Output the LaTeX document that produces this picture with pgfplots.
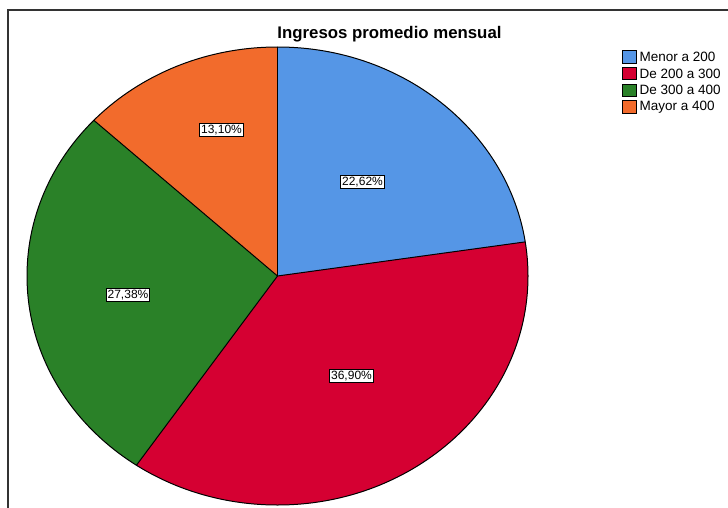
\documentclass[border=0pt]{standalone}
\usepackage{pgfplots}
\usepackage{pgfplotstable}
\pgfplotsset{compat=1.18}
\usepackage{fontspec}
\setmainfont{Liberation Sans}
\definecolor{cBlue}{RGB}{85,150,230}
\definecolor{cRed}{RGB}{213,0,50}
\definecolor{cGreen}{RGB}{42,129,40}
\definecolor{cOrange}{RGB}{242,107,44}
\pgfplotstableread{
value
22.62
36.90
27.38
13.10
}\piedata
\pgfplotstablegetelem{0}{value}\of\piedata\let\vA\pgfplotsretval
\pgfplotstablegetelem{1}{value}\of\piedata\let\vB\pgfplotsretval
\pgfplotstablegetelem{2}{value}\of\piedata\let\vC\pgfplotsretval
\pgfplotstablegetelem{3}{value}\of\piedata\let\vD\pgfplotsretval
\pgfmathsetmacro\aA{90}
\pgfmathsetmacro\aB{\aA-3.6*\vA}
\pgfmathsetmacro\aC{\aB-3.6*\vB}
\pgfmathsetmacro\aD{\aC-3.6*\vC}
\pgfmathsetmacro\aE{\aD-3.6*\vD}
\tikzset{plab/.style={draw=black, fill=white, inner sep=1.3pt, line width=0.9pt, font=\fontsize{12}{14}\selectfont}}
\begin{document}
\begin{tikzpicture}
\begin{axis}[
  x=1pt, y=1pt, xmin=0, xmax=728, ymin=0, ymax=508,
  y dir=reverse, hide axis, clip=true,
]
\addplot[draw=none, forget plot] coordinates {(0,0) (728,508)};
% frame
\draw[line width=2pt, black!80] (axis cs:8,508) -- (axis cs:8,10) -- (axis cs:728,10);
% wedges
\fill[cBlue]   (axis cs:277.5,276) -- ++(\aA:250.5pt and 229pt) arc[start angle=\aA, end angle=\aB, x radius=250.5pt, y radius=229pt] -- cycle;
\fill[cRed]    (axis cs:277.5,276) -- ++(\aB:250.5pt and 229pt) arc[start angle=\aB, end angle=\aC, x radius=250.5pt, y radius=229pt] -- cycle;
\fill[cGreen]  (axis cs:277.5,276) -- ++(\aC:250.5pt and 229pt) arc[start angle=\aC, end angle=\aD, x radius=250.5pt, y radius=229pt] -- cycle;
\fill[cOrange] (axis cs:277.5,276) -- ++(\aD:250.5pt and 229pt) arc[start angle=\aD, end angle=\aE, x radius=250.5pt, y radius=229pt] -- cycle;
\draw[black, line width=1pt] (axis cs:277.5,276) -- ++(\aA:250.5pt and 229pt);
\draw[black, line width=1pt] (axis cs:277.5,276) -- ++(\aB:250.5pt and 229pt);
\draw[black, line width=1pt] (axis cs:277.5,276) -- ++(\aC:250.5pt and 229pt);
\draw[black, line width=1pt] (axis cs:277.5,276) -- ++(\aD:250.5pt and 229pt);
\draw[black, line width=1pt] (axis cs:277.5,276) ellipse [x radius=250.5pt, y radius=229pt];
% labels
\node[plab] at (axis cs:362.5,182) {22,62\%};
\node[plab] at (axis cs:351.5,376) {36,90\%};
\node[plab] at (axis cs:128,295) {27,38\%};
\node[plab] at (axis cs:221.5,130) {13,10\%};
% title
\node[font=\fontsize{16.8}{19}\selectfont\bfseries] at (axis cs:389.5,34) {Ingresos promedio mensual};
% legend
\draw[black, line width=0.8pt, fill=cBlue]   (axis cs:622,50.5) rectangle (axis cs:636.5,63);
\draw[black, line width=0.8pt, fill=cRed]    (axis cs:622,67.3) rectangle (axis cs:636.5,79.8);
\draw[black, line width=0.8pt, fill=cGreen]  (axis cs:622,84.1) rectangle (axis cs:636.5,96.6);
\draw[black, line width=0.8pt, fill=cOrange] (axis cs:622,100.9) rectangle (axis cs:636.5,113.4);
\node[anchor=west, inner sep=0pt, font=\fontsize{13.5}{15}\selectfont] at (axis cs:639.5,56.7) {Menor a 200};
\node[anchor=west, inner sep=0pt, font=\fontsize{13.5}{15}\selectfont] at (axis cs:639.5,73.5) {De 200 a 300};
\node[anchor=west, inner sep=0pt, font=\fontsize{13.5}{15}\selectfont] at (axis cs:639.5,90.3) {De 300 a 400};
\node[anchor=west, inner sep=0pt, font=\fontsize{13.5}{15}\selectfont] at (axis cs:639.5,107.1) {Mayor a 400};
\end{axis}
\end{tikzpicture}
\end{document}
